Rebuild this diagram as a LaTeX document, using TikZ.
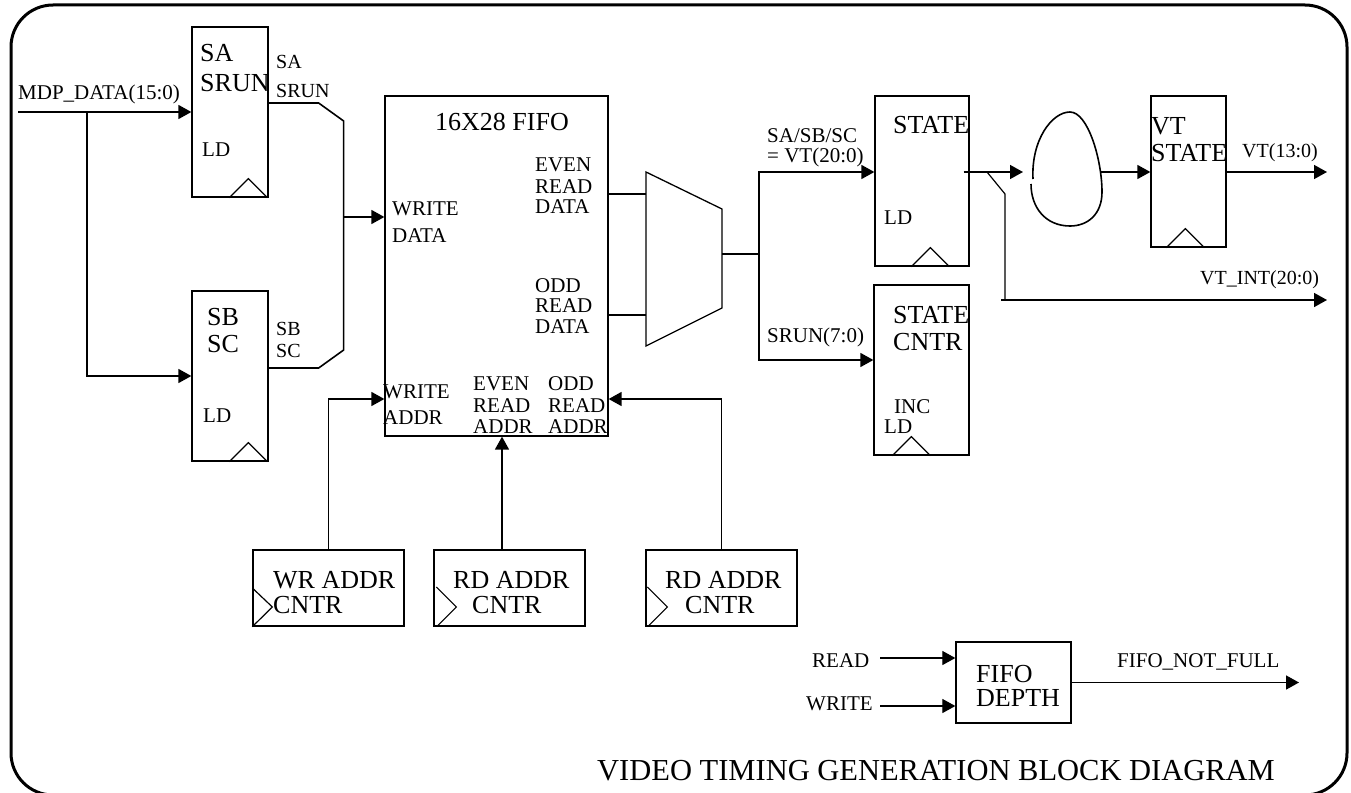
\documentclass[tikz,border=0pt]{standalone}
\usepackage{fontspec}
\setmainfont{Liberation Serif}
\usetikzlibrary{arrows.meta,calc}
\newcommand\lbl[4][]{\node[lab,#1] (#2) at (#3) {#4};}
\newcommand\clk[2]{\draw[tick] ($(#1.south west)+(#2,0)$) -- ++(19,-19) -- ++(19,19);}
\begin{document}
\begin{tikzpicture}[x=1pt,y=-1pt,
  lab/.style={anchor=base west,inner sep=0pt,font=\fontsize{21}{24}\selectfont},
  big/.style={font=\fontsize{26}{30}\selectfont},
  blk/.style={draw,line width=1.3pt,inner sep=0pt},
  wire/.style={line width=1.6pt},
  tick/.style={line width=1.2pt},
  arr/.style={-{Triangle[length=13pt,width=14pt]}}]
\useasboundingbox (0,0) rectangle (1351,792);
\clip (0,0) rectangle (1351,792);
\draw[line width=3pt,rounded corners=42pt] (11,5) rectangle (1347,795);

% blocks
\node[blk,minimum width=76pt,minimum height=170pt] (sa) at (230,112) {};
\node[blk,minimum width=76pt,minimum height=170pt] (sb) at (230,376) {};
\node[blk,minimum width=223pt,minimum height=340pt] (fifo) at (496.5,266) {};
\node[blk,minimum width=94pt,minimum height=170pt] (st) at (922,181) {};
\node[blk,minimum width=95pt,minimum height=170pt] (sc) at (921.5,370) {};
\node[blk,minimum width=75pt,minimum height=151pt] (vt) at (1188.5,171.5) {};
\node[blk,minimum width=151pt,minimum height=76pt] (wr) at (328.5,588) {};
\node[blk,minimum width=151pt,minimum height=76pt] (rd1) at (509.5,588) {};
\node[blk,minimum width=151pt,minimum height=76pt] (rd2) at (721.5,588) {};
\node[blk,minimum width=115pt,minimum height=81pt] (fd) at (1013.5,682.5) {};

% mux
\draw[line width=1.3pt] (646,172) -- (722,209) -- (722,308) -- (646,346) -- cycle;
\coordinate (mE) at (646,194);
\coordinate (mO) at (646,315);
\coordinate (mout) at (722,254);
\coordinate (split) at (759,254);

% egg
\draw[wire] (1033,179) .. controls (1031,140) and (1052,112) .. (1070,112)
  .. controls (1088,112) and (1102,160) .. (1102,192)
  .. controls (1102,214) and (1088,226) .. (1070,226)
  .. controls (1046,226) and (1031,208) .. (1031,184);
\coordinate (eggin) at (1023,172);
\coordinate (eggout) at (1100,172);

% clocks
\clk{sa}{38}
\clk{sb}{38}
\clk{st}{37}
\clk{sc}{19}
\clk{vt}{16}
\draw[tick] (wr.west) -- ++(20,19) -- (wr.south west);
\draw[tick] ($(rd1.west)+(3,-1)$) -- ++(20,20) -- ++(-19,19);
\draw[tick] ($(rd2.west)+(2,-1)$) -- ++(20,20) -- ++(-19,19);

% connectors
\coordinate (mdp) at (18,112);
\coordinate (br) at (87,112);
\draw[wire,arr] (mdp) -- (sa.west);
\draw[wire,arr] (br) |- (sb.west);
\draw[wire] ($(sa.east)+(0,-9)$) -- ++(50,0) -- ++(25,18) -- ++(0,229) -- ++(-25,18) -- ($(sb.east)+(0,-8)$);
\coordinate (bus) at (343,217);
\draw[wire,arr] (bus) -- (fifo.west |- bus);
\draw[wire] (fifo.east |- mE) -- (mE);
\draw[wire] (fifo.east |- mO) -- (mO);
\draw[wire] (mout) -- (split);
\draw[wire,arr] (split) |- ($(st.west)+(0,-9)$);
\draw[wire,arr] (split) |- ($(sc.west)+(0,-10)$);
\draw[wire,arr] ($(st.east)+(-6,-9)$) -- (eggin);
\coordinate (tap) at (987,172);
\coordinate (vtint) at (1327,300);
\draw[tick] (tap) -- ++(18,22) -- ++(0,106);
\draw[wire,arr] ($(tap)+(14,128)$) -- (vtint);
\draw[wire,arr] (eggout) -- (vt.west |- eggout);
\coordinate (vtout) at (1327,172);
\draw[wire,arr] (vt.east |- vtout) -- (vtout);
\draw[wire,arr] (wr.north) |- ($(fifo.west)+(0,133)$);
\coordinate (r1n) at ($(rd1.north)+(-7.5,0)$);
\draw[wire,arr] (r1n) -- (r1n |- fifo.south);
\draw[wire,arr] (rd2.north) |- ($(fifo.east)+(0,133)$);
\coordinate (rdin) at (880,658);
\coordinate (wrin) at (880,706);
\coordinate (nf) at (1299,682.5);
\draw[tick,arr] (rdin) -- (fd.west |- rdin);
\draw[tick,arr] (wrin) -- (fd.west |- wrin);
\draw[wire,arr] (fd.east) -- (nf);

% texts
\lbl{t1}{18,99}{MDP\_DATA(15:0)}
\lbl[big]{t2}{200,61}{SA}
\lbl[big]{t3}{200,91}{SRUN}
\lbl{t4}{202,156}{LD}
\lbl[big]{t5}{207,325}{SB}
\lbl[big]{t6}{207,352}{SC}
\lbl{t7}{203,422}{LD}
\lbl[font=\fontsize{20}{24}\selectfont]{t8}{276,69}{SA}
\lbl[font=\fontsize{20}{24}\selectfont]{t9}{276,97}{SRUN}
\lbl[font=\fontsize{20}{24}\selectfont]{t10}{276,335}{SB}
\lbl[font=\fontsize{20}{24}\selectfont]{t11}{276,357}{SC}
\lbl[big]{t12}{435,130}{16X28 FIFO}
\lbl{t13}{392,215}{WRITE}
\lbl{t14}{392,242}{DATA}
\lbl{t15}{535,171}{EVEN}
\lbl{t16}{535,193}{READ}
\lbl{t17}{535,213}{DATA}
\lbl{t18}{535,292}{ODD}
\lbl{t19}{535,312}{READ}
\lbl{t20}{535,333}{DATA}
\lbl{t21}{383,398}{WRITE}
\lbl{t22}{383,424}{ADDR}
\lbl{t23}{473,390}{EVEN}
\lbl{t24}{473,412}{READ}
\lbl{t25}{473,433}{ADDR}
\lbl{t26}{548,390}{ODD}
\lbl{t27}{548,412}{READ}
\lbl{t28}{548,433}{ADDR}
\lbl{t29}{767,142}{SA/SB/SC}
\lbl{t30}{767,162}{= VT(20:0)}
\lbl{t31}{767,342}{SRUN(7:0)}
\lbl[big]{t32}{893,133}{STATE}
\lbl{t33}{884,224}{LD}
\lbl[big]{t34}{893,323}{STATE}
\lbl[big]{t35}{893,350}{CNTR}
\lbl{t36}{894,413}{INC}
\lbl{t37}{884,433}{LD}
\lbl[big]{t38}{1151,134}{VT}
\lbl[big]{t39}{1151,161}{STATE}
\lbl[font=\fontsize{20}{24}\selectfont]{t40}{1242,157}{VT(13:0)}
\lbl[font=\fontsize{20}{24}\selectfont]{t41}{1200,284}{VT\_INT(20:0)}
\lbl[big]{t42}{273,588}{WR ADDR}
\lbl[big]{t43}{273,613}{CNTR}
\lbl[big]{t44}{453,588}{RD ADDR}
\lbl[big]{t45}{472,613}{CNTR}
\lbl[big]{t46}{665,588}{RD ADDR}
\lbl[big]{t47}{685,613}{CNTR}
\lbl{t48}{812,667}{READ}
\lbl{t49}{806,710}{WRITE}
\lbl[big]{t50}{976,682}{FIFO}
\lbl[big]{t51}{976,706}{DEPTH}
\lbl{t52}{1117,667}{FIFO\_NOT\_FULL}
\lbl[font=\fontsize{30.5}{34}\selectfont]{t53}{597,780}{VIDEO TIMING GENERATION BLOCK DIAGRAM}
\end{tikzpicture}
\end{document}
